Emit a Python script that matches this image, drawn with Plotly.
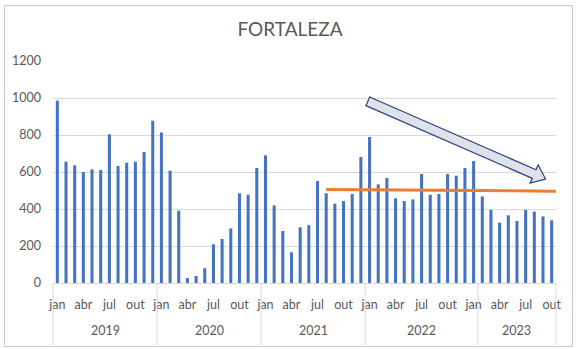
import math
import plotly.graph_objects as go

# ---- data -------------------------------------------------------------
MONTHS = ["jan", "fev", "mar", "abr", "mai", "jun",
          "jul", "ago", "set", "out", "nov", "dez"]

YEARS = ["2019", "2020", "2021", "2022", "2023"]
MONTHS_2019 = MONTHS
MONTHS_2020 = MONTHS
MONTHS_2021 = MONTHS
MONTHS_2022 = MONTHS + ["jan"]
MONTHS_2023 = MONTHS[1:10]

VALUES_2019 = [986, 656, 636, 600, 614, 611, 804, 632, 650, 656, 708, 877]
VALUES_2020 = [814, 607, 391, 27, 38, 80, 209, 238, 295, 485, 477, 622]
VALUES_2021 = [690, 420, 281, 166, 301, 313, 551, 485, 429, 443, 481, 681]
VALUES_2022 = [789, 533, 568, 458, 443, 452, 589, 477, 481, 589, 580, 622, 659]
VALUES_2023 = [468, 395, 326, 366, 335, 395, 386, 360, 339]

# trend line (start category index, end category index) and values
TREND_X = [31, 57.5]
TREND_Y = [506, 496]

# direction arrow: tail and tip in (category index, value)
ARROW_TAIL = (35.8, 982)
ARROW_TIP = (56.3, 562)

Y_MAX = 1200
Y_STEP = 200

# ---- layout geometry --------------------------------------------------
W, H = 576, 349
ML, MR, MT, MB = 53, 20, 61, 66
PW, PH = W - ML - MR, H - MT - MB

GRAY_TEXT = "#595959"
GRID = "#D9D9D9"
FONT = "Lato"

month_groups = [MONTHS_2019, MONTHS_2020, MONTHS_2021, MONTHS_2022, MONTHS_2023]
value_groups = [VALUES_2019, VALUES_2020, VALUES_2021, VALUES_2022, VALUES_2023]

month_labels = [m for g in month_groups for m in g]
values = [v for g in value_groups for v in g]
n = len(values)
xs = list(range(n))

x_lo, x_hi = -0.5, n - 0.5


def px_x(x):
    return ML + (x - x_lo) / (x_hi - x_lo) * PW


def px_y(y):
    return MT + PH - y / Y_MAX * PH


def data_x(px):
    return x_lo + (px - ML) / PW * (x_hi - x_lo)


def data_y(py):
    return (MT + PH - py) / PH * Y_MAX


def paper_x(px):
    return (px - ML) / PW


def paper_y(py):
    return (MT + PH - py) / PH


fig = go.Figure()

fig.add_trace(go.Bar(
    x=xs, y=values,
    marker=dict(color="#4472C4", line=dict(width=0)),
    hoverinfo="skip",
))

fig.add_trace(go.Scatter(
    x=TREND_X, y=TREND_Y, mode="lines",
    line=dict(color="#ED7D31", width=3),
    hoverinfo="skip",
))

shapes = []

# outer chart border
shapes.append(dict(
    type="rect", xref="paper", yref="paper",
    x0=paper_x(4.5), x1=paper_x(W - 3.5),
    y0=paper_y(H - 2.5), y1=paper_y(5.5),
    line=dict(color="#C9C9C9", width=1), fillcolor="rgba(0,0,0,0)",
    layer="below",
))

# year group dividers below the category axis
div_bottom = paper_y(H - 4)
shapes.append(dict(type="line", xref="paper", yref="paper",
                   x0=0, x1=0, y0=0, y1=div_bottom,
                   line=dict(color=GRID, width=1)))
shapes.append(dict(type="line", xref="paper", yref="paper",
                   x0=1, x1=1, y0=0, y1=div_bottom,
                   line=dict(color=GRID, width=1)))
annotations = []
start = 0
for year, grp in zip(YEARS, month_groups):
    end = start + len(grp)
    if end < n:
        shapes.append(dict(type="line", xref="x", yref="paper",
                           x0=end - 0.5, x1=end - 0.5, y0=0, y1=div_bottom,
                           line=dict(color=GRID, width=1)))
    annotations.append(dict(
        x=(start + end - 1) / 2, y=paper_y(330.5), xref="x", yref="paper",
        text=year, showarrow=False, xanchor="center", yanchor="middle",
        font=dict(family=FONT, size=12.5, color=GRAY_TEXT),
    ))
    start = end

# block arrow built in pixel space, then mapped back to data coordinates
tx, ty = px_x(ARROW_TAIL[0]), px_y(ARROW_TAIL[1])
hx, hy = px_x(ARROW_TIP[0]), px_y(ARROW_TIP[1])
L = math.hypot(hx - tx, hy - ty)
ux, uy = (hx - tx) / L, (hy - ty) / L
nx, ny = -uy, ux
shaft_hw, head_hw, head_len = 4.7, 10.0, 12.5
bx, by = hx - ux * head_len, hy - uy * head_len
pts = [
    (tx + nx * shaft_hw, ty + ny * shaft_hw),
    (bx + nx * shaft_hw, by + ny * shaft_hw),
    (bx + nx * head_hw, by + ny * head_hw),
    (hx, hy),
    (bx - nx * head_hw, by - ny * head_hw),
    (bx - nx * shaft_hw, by - ny * shaft_hw),
    (tx - nx * shaft_hw, ty - ny * shaft_hw),
]
path = "M " + " L ".join(f"{data_x(px):.4f},{data_y(py):.4f}" for px, py in pts) + " Z"
shapes.append(dict(
    type="path", xref="x", yref="y", path=path,
    fillcolor="#DFE2E8", line=dict(color="#2F3F8A", width=1.2),
    layer="above",
))

tick_idx = list(range(0, n, 3))

fig.update_layout(
    width=W, height=H,
    margin=dict(l=ML, r=MR, t=MT, b=MB),
    paper_bgcolor="white", plot_bgcolor="white",
    showlegend=False,
    bargap=0.65,
    title=dict(text="FORTALEZA", x=290 / W, xanchor="center",
               y=1 - 29.5 / H, yanchor="middle",
               font=dict(family=FONT, size=19, color=GRAY_TEXT)),
    font=dict(family=FONT, size=12.5, color=GRAY_TEXT),
    xaxis=dict(
        range=[x_lo, x_hi], tickmode="array",
        tickvals=tick_idx, ticktext=[month_labels[i] for i in tick_idx],
        showgrid=False, zeroline=False,
        showline=True, linecolor=GRID, linewidth=1,
        ticks="", ticklabelstandoff=10,
        tickfont=dict(family=FONT, size=12.5, color=GRAY_TEXT),
    ),
    yaxis=dict(
        range=[0, Y_MAX], dtick=Y_STEP, tick0=0,
        showgrid=True, gridcolor=GRID, gridwidth=1,
        zeroline=False, showline=False,
        ticks="", ticklabelstandoff=11,
        tickfont=dict(family=FONT, size=12.5, color=GRAY_TEXT),
    ),
    shapes=shapes,
    annotations=annotations,
)

fig.write_html("out.html")
